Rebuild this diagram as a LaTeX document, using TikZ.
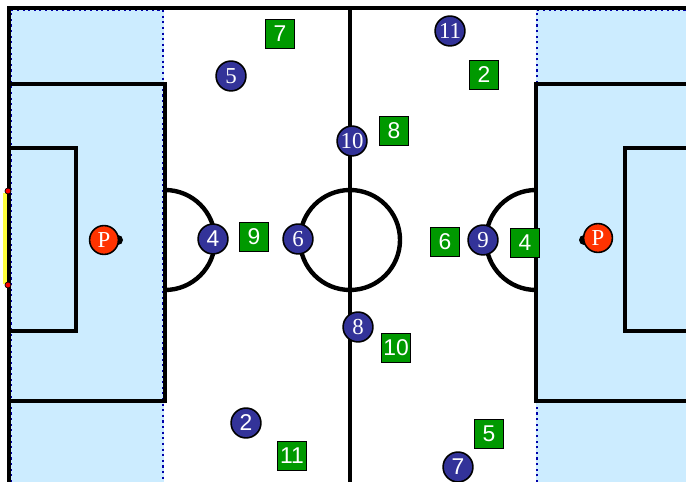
\documentclass[tikz,border=0pt]{standalone}
\usepackage{fontspec}
\setmainfont{Liberation Serif}
\setsansfont{Liberation Sans}
\usepackage{xcolor}
\definecolor{areablue}{RGB}{204,236,255}
\definecolor{teamblue}{RGB}{51,51,153}
\definecolor{teamgreen}{RGB}{0,153,0}
\definecolor{keeperred}{RGB}{255,51,0}
\definecolor{dotblue}{RGB}{0,0,170}
\definecolor{goalyellow}{RGB}{255,255,60}

\begin{document}
\begin{tikzpicture}[x=0.02cm, y=-0.02cm,
    pitchline/.style={line width=2.5pt},
    wing/.style={dotblue, line width=1.2pt, dotted},
    blueman/.style={circle, draw=black, line width=0.9pt, fill=teamblue, text=white,
      minimum size=17pt, inner sep=0pt, font=\fontsize{13}{13}\selectfont},
    greenman/.style={draw=black, line width=0.9pt, fill=teamgreen, text=white,
      minimum size=16.4pt, inner sep=0pt, font=\sffamily\fontsize{13}{13}\selectfont},
    keeper/.style={circle, draw=black, line width=0.9pt, fill=keeperred, text=white,
      minimum size=16.4pt, inner sep=0pt, font=\fontsize{13}{13}\selectfont}]
    \useasboundingbox (0, 0) rectangle (686, 482);
    \clip (0, 0) rectangle (686, 482);
    % grass areas
    \fill[white] (0, 0) rectangle (686, 482);
    \fill[areablue] (9, 8) rectangle (164, 482);
    \fill[areablue] (536, 8) rectangle (700, 482);
    \draw[wing] (11, 482) -- (11, 10) -- (163, 10) -- (163, 482);
    \draw[wing] (537, 482) -- (537, 10) -- (700, 10);
    % markings
    \draw[pitchline] (9, 482) -- (9, 8) -- (700, 8);
    \draw[pitchline] (350, 8) -- (350, 482);
    \draw[pitchline] (350, 240) circle[radius=50];
    \draw[pitchline] (9, 84) rectangle (165, 401);
    \draw[pitchline] (9, 148) rectangle (76, 331);
    \draw[pitchline] (165, 190) arc[start angle=-90, end angle=90, radius=50];
    \draw[pitchline] (700, 84) -- (536, 84) -- (536, 401) -- (700, 401);
    \draw[pitchline] (700, 148) -- (625, 148) -- (625, 331) -- (700, 331);
    \draw[pitchline] (536, 190) arc[start angle=270, end angle=90, radius=50];
    % goal
    \draw[goalyellow, line width=1.8pt] (5, 193) -- (5, 284);
    \fill[red, draw=black, line width=0.4pt] (8, 191) circle[radius=3];
    \fill[red, draw=black, line width=0.4pt] (8, 285) circle[radius=3];
    % penalty spots and keepers
    \fill (118, 240) circle[radius=5];
    \fill (584, 240) circle[radius=5];
    \node[keeper] (keepL) at (104, 240) {P};
    \node[keeper] (keepR) at (598, 238) {P};
    % blue team
    \node[blueman] (b11) at (450, 31) {11};
    \node[blueman] (b5) at (231, 76) {5};
    \node[blueman] (b10) at (352, 141) {10};
    \node[blueman, font=\sffamily\fontsize{13}{13}\selectfont] (b4) at (213, 239) {4};
    \node[blueman] (b6) at (298, 239) {6};
    \node[blueman] (b9) at (483, 240) {9};
    \node[blueman] (b8) at (358, 327) {8};
    \node[blueman, font=\sffamily\fontsize{13}{13}\selectfont] (b2) at (246, 423) {2};
    \node[blueman, font=\sffamily\fontsize{13}{13}\selectfont] (b7) at (458, 467) {7};
    % green team
    \node[greenman] (g7) at (280, 34) {7};
    \node[greenman] (g2) at (484, 75) {2};
    \node[greenman] (g8) at (394, 131) {8};
    \node[greenman] (g9) at (254, 237) {9};
    \node[greenman] (g6) at (445, 242) {6};
    \node[greenman] (g4) at (525, 243) {4};
    \node[greenman] (g10) at (396, 348) {10};
    \node[greenman] (g5) at (489, 434) {5};
    \node[greenman] (g11) at (292, 456) {11};
\end{tikzpicture}
\end{document}
